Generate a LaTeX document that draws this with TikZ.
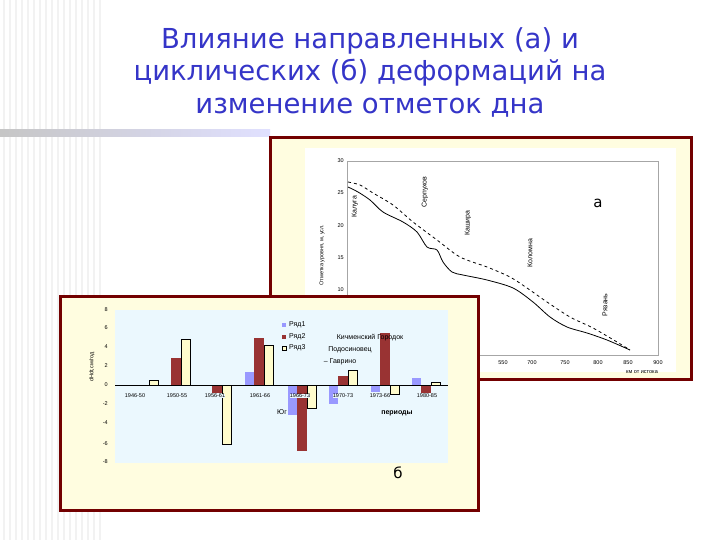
\documentclass[tikz,border=0pt]{standalone}
\usepackage{fontspec}
\setmainfont{DejaVu Sans}
\newfontfamily\lsans{Liberation Sans}
\definecolor{ttlblue}{HTML}{3535C8}
\begin{document}
\begin{tikzpicture}[x=1pt,y=-1pt,
  frame/.style={draw=red!45!black,line width=3pt,fill=yellow!12},
  tiny/.style={font=\lsans\fontsize{5.5}{6}\selectfont,inner sep=0pt},
  small/.style={font=\lsans\fontsize{7}{8}\selectfont,inner sep=0pt},
  bA/.style={fill=blue!40,draw=none},
  bB/.style={fill=red!50!black!80,draw=none},
  bC/.style={fill=yellow!20,draw=black,line width=0.4pt},
  ttl/.style={font=\fontsize{27.5}{32.5}\selectfont,text=ttlblue,align=center}]
\useasboundingbox (0,0) rectangle (720,540);
\fill[white] (0,0) rectangle (720,540);
\foreach \x in {4,10,...,100} \draw[gray!10,line width=1.5pt] (\x,0) -- (\x,540);
\shade[left color=gray!45,right color=blue!12] (0,130) rectangle (270,137);
\node[ttl] (title) at (370,72) {Влияние направленных (а) и\\циклических (б) деформаций на\\изменение отметок дна};
% panel a
\draw[frame] (270,138) rectangle (691,379);
\fill[white] (305,148) rectangle (676,372);
\draw[gray!70,line width=0.5pt] (347,161) rectangle (658,355);
\foreach \v/\y in {30/161,25/193,20/226,15/258,10/290} \node[tiny,anchor=east] (ya\v) at (344,\y) {\v};
\foreach \v/\x in {550/503,700/532,750/565,800/598,850/628,900/658} \node[tiny] (xa\v) at (\x,363) {\v};
\node[tiny] (km) at (642,372) {км от истока};
\node[tiny,rotate=90] (yla) at (322,255) {Отметка уровня, м, усл.};
\draw[line width=0.8pt] plot[smooth] coordinates {(348,187)(358,192)(370,200)(383,212)(403,222)(417,232)(427,247)(437,250)(443,262)(452,272)(463,275)(487,280)(513,288)(533,302)(550,317)(567,327)(587,333)(607,340)(630,350)};
\draw[line width=0.8pt,dashed] plot[smooth] coordinates {(348,182)(360,185)(373,193)(393,205)(413,222)(437,240)(460,257)(487,267)(510,277)(527,288)(547,302)(570,317)(593,328)(617,342)(630,350)};
\foreach \t/\x/\y in {Калуга/355/207,Серпухов/425/192,Кашира/468/223,Коломна/530/253,Рязань/605/305}
  \node[small,rotate=90] (c\t) at (\x,\y) {\t};
\node[font=\fontsize{15}{15}\selectfont] (la) at (598,203) {а};
% panel b
\draw[frame] (60,296) rectangle (478,510);
\fill[cyan!8] (115,310) rectangle (448,463);
\foreach \v/\y in {8/310,6/328,4/347,2/366,0/385,-2/404,-4/423,-6/444,-8/462} \node[tiny,anchor=east] (yb\v) at (108,\y) {\v};
\node[tiny,rotate=90] (ylb) at (92,367) {dHdt,см/год};
\foreach \x/\a/\b/\c in {130/0/0/0.5,162/0/2.8/4.8,203/0/-0.8/-6.2,245/1.4/5/4.2,288/-3.2/-6.9/-2.4,329/-2/1/1.6,371/-0.7/5.5/-1,412/0.7/-0.8/0.3}{
  \fill[bA] (\x,385) rectangle (\x+9,{385-9.5*\a});
  \fill[bB] (\x+9,385) rectangle (\x+19,{385-9.5*\b});
  \draw[bC] (\x+19,385) rectangle (\x+28,{385-9.5*\c});
}
\draw[black,line width=0.4pt] (115,385) -- (448,385);
\foreach \t/\x in {1946-50/135,1950-55/177,1956-61/215,1961-66/260,1966-73/300,1970-73/343,1973-66/380,1980-85/427}
  \node[tiny,fill=cyan!8] (g\t) at (\x,396) {\t};
\foreach \i/\y/\s in {1/325/bA,2/337/bB,3/348/bC} {
  \path[\s] (282,\y-2) rectangle (286,\y+2);
  \node[small,anchor=west] (leg\i) at (289,\y) {Ряд\i};
}
\node[small] (kg) at (370,338) {Кичменский Городок};
\node[small] (pd) at (350,350) {Подосиновец};
\node[small] (gv) at (340,362) {– Гаврино};
\node[small] (ug) at (282,412) {Юг};
\node[small,font=\lsans\bfseries\fontsize{7}{8}\selectfont] (per) at (397,413) {периоды};
\node[font=\fontsize{15}{15}\selectfont] (lb) at (398,473) {б};
\end{tikzpicture}
\end{document}
